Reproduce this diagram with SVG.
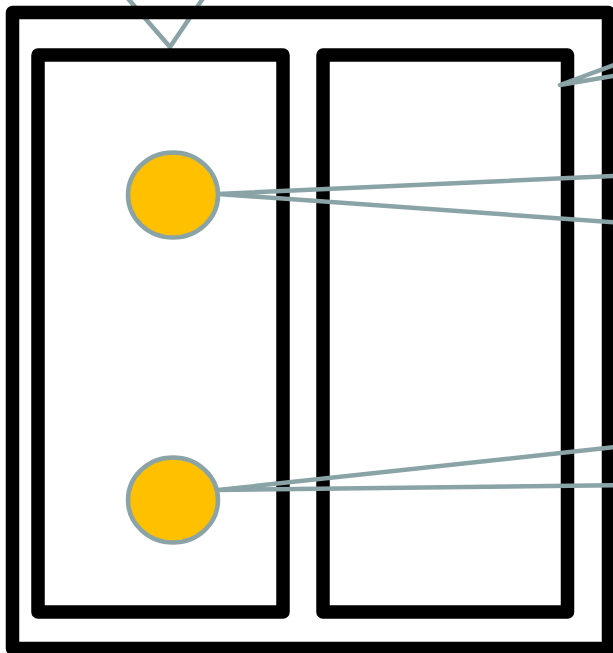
<svg xmlns="http://www.w3.org/2000/svg" width="613" height="653" viewBox="0 0 613 653">
<style>
.frame{fill:none;stroke:#000;stroke-width:13.5;stroke-linejoin:round}
.conn{fill:none;stroke:#8AA3A6;stroke-width:4.5;stroke-linecap:round;stroke-linejoin:round}
.dot{fill:#FFC000;stroke:#8AA3A6;stroke-width:4.5}
</style>
<rect width="613" height="653" fill="#fff"/>
<g id="connectors-top">
<polyline class="conn" points="124,-6 170,47 206,-6"/>
</g>
<g id="outer">
<rect class="frame" x="12.5" y="12.5" width="596" height="636"/>
</g>
<g id="left-panel">
<rect class="frame" x="38" y="55" width="245" height="557"/>
</g>
<g id="right-panel">
<rect class="frame" x="323" y="55" width="244.5" height="557"/>
</g>
<g id="connectors">
<polyline class="conn" points="625,61 560,85 625,74"/>
<polyline class="conn" points="625,175.5 218,194 625,223"/>
<polyline class="conn" points="625,446 218,490 625,485"/>
</g>
<g id="node-1">
<ellipse class="dot" cx="173" cy="195" rx="45" ry="42.5"/>
</g>
<g id="node-2">
<ellipse class="dot" cx="173" cy="500" rx="45" ry="42.5"/>
</g>
</svg>
